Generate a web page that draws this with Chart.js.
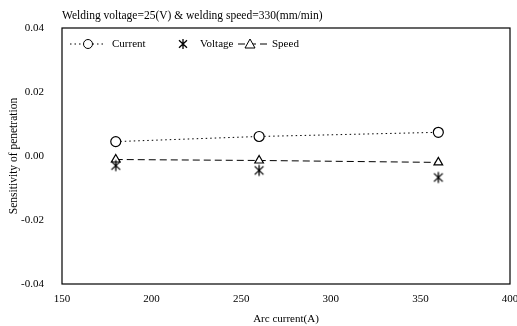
<!DOCTYPE html>
<html>
<head>
<meta charset="utf-8">
<script src="https://cdn.jsdelivr.net/npm/chart.js@4/dist/chart.umd.min.js"></script>
<style>
  html, body { margin: 0; padding: 0; background: #fff; }
  #wrap { width: 517px; height: 326px; position: relative; }
</style>
</head>
<body>
<div id="wrap"><canvas id="myChart1"></canvas></div>
<script>
// data
var arcCurrent = [180, 260, 360];
var currentSens = [0.0045, 0.0061, 0.0074];
var voltageSens = [-0.0030, -0.0045, -0.0067];
var speedSens = [-0.0011, -0.0014, -0.0020];
var xTicks = [150, 200, 250, 300, 350, 400];
var yTicks = [-0.04, -0.02, 0.00, 0.02, 0.04];
var seriesNames = ['Current', 'Voltage', 'Speed'];
var chartTitle = 'Welding voltage=25(V) & welding speed=330(mm/min)';

var serif = '"Liberation Serif", "DejaVu Serif", serif';

function pts(ys) {
    return arcCurrent.map(function (x, i) { return { x: x, y: ys[i] }; });
}

// six armed asterisk like the scan
function drawAsterisk(ctx, cx, cy, r) {
    ctx.beginPath();
    ctx.moveTo(cx, cy - r); ctx.lineTo(cx, cy + r);
    ctx.moveTo(cx - r * 0.8, cy - r * 0.75); ctx.lineTo(cx + r * 0.8, cy + r * 0.75);
    ctx.moveTo(cx + r * 0.8, cy - r * 0.75); ctx.lineTo(cx - r * 0.8, cy + r * 0.75);
    ctx.stroke();
}
var asterisk = document.createElement('canvas');
asterisk.width = 14; asterisk.height = 14;
(function () {
    var c = asterisk.getContext('2d');
    c.strokeStyle = '#000';
    c.lineWidth = 1.3;
    drawAsterisk(c, 7, 7, 5.5);
})();

// frame, title and legend drawn on the canvas
var extras = {
    id: 'extras',
    afterDraw: function (chart) {
        var ctx = chart.ctx, a = chart.chartArea;
        ctx.save();
        ctx.strokeStyle = '#000';
        ctx.lineWidth = 1.2;
        ctx.strokeRect(a.left, a.top, a.right - a.left, a.bottom - a.top);

        ctx.fillStyle = '#000';
        ctx.font = '11.5px ' + serif;
        ctx.textBaseline = 'middle';
        ctx.fillText(chartTitle, 62, 16);

        // legend
        var ly = 44;
        ctx.font = '11px ' + serif;
        ctx.lineWidth = 1;
        ctx.setLineDash([1.5, 3]);
        ctx.beginPath(); ctx.moveTo(70, ly); ctx.lineTo(106, ly); ctx.stroke();
        ctx.setLineDash([]);
        ctx.beginPath(); ctx.arc(88, ly, 4.5, 0, Math.PI * 2);
        ctx.fillStyle = '#fff'; ctx.fill(); ctx.stroke();
        ctx.fillStyle = '#000';
        ctx.fillText(seriesNames[0], 112, ly);

        ctx.lineWidth = 1.3;
        drawAsterisk(ctx, 183, ly, 5);
        ctx.lineWidth = 1;
        ctx.fillText(seriesNames[1], 200, ly);

        ctx.setLineDash([7, 4]);
        ctx.beginPath(); ctx.moveTo(238, ly); ctx.lineTo(268, ly); ctx.stroke();
        ctx.setLineDash([]);
        ctx.beginPath();
        ctx.moveTo(250, ly - 5); ctx.lineTo(255, ly + 4); ctx.lineTo(245, ly + 4); ctx.closePath();
        ctx.fillStyle = '#fff'; ctx.fill(); ctx.stroke();
        ctx.fillStyle = '#000';
        ctx.fillText(seriesNames[2], 272, ly);
        ctx.restore();
    }
};

var data = {
    datasets: [{
        label: seriesNames[0],
        data: pts(currentSens),
        borderColor: '#000',
        borderWidth: 1,
        borderDash: [1.5, 3],
        pointStyle: 'circle',
        pointRadius: 5,
        pointBackgroundColor: '#fff',
        pointBorderColor: '#000',
        pointBorderWidth: 1.2
    }, {
        label: seriesNames[1],
        data: pts(voltageSens),
        showLine: false,
        borderColor: '#000',
        pointStyle: asterisk,
        pointRadius: 6
    }, {
        label: seriesNames[2],
        data: pts(speedSens),
        borderColor: '#000',
        borderWidth: 1,
        borderDash: [7, 4],
        pointStyle: 'triangle',
        pointRadius: 5,
        pointBackgroundColor: '#fff',
        pointBorderColor: '#000',
        pointBorderWidth: 1.2
    }]
};

var options = {
    responsive: true,
    maintainAspectRatio: false,
    animation: false,
    layout: { padding: { top: 28, right: 5, left: 0, bottom: 0 } },
    plugins: {
        legend: { display: false },
        title: { display: false },
        tooltip: { enabled: false }
    },
    scales: {
        x: {
            type: 'linear',
            min: 150, max: 400,
            afterBuildTicks: function (s) { s.ticks = xTicks.map(function (v) { return { value: v }; }); },
            afterFit: function (s) { s.height = 42; s.paddingLeft = 0; s.paddingRight = 0; },
            grid: { display: false, drawTicks: false },
            border: { display: false },
            ticks: { color: '#000', font: { family: serif, size: 11 }, padding: 9, maxRotation: 0 },
            title: { display: true, text: 'Arc current(A)', color: '#000', font: { family: serif, size: 11 }, padding: { top: 1, bottom: 0 } }
        },
        y: {
            min: -0.04, max: 0.04,
            afterBuildTicks: function (s) { s.ticks = yTicks.map(function (v) { return { value: v }; }); },
            afterFit: function (s) { s.width = 62; },
            grid: { display: false, drawTicks: false },
            border: { display: false },
            ticks: {
                color: '#000', font: { family: serif, size: 11 }, padding: 18,
                callback: function (v) { return Math.abs(v) < 1e-9 ? '0.00' : v.toFixed(2); }
            },
            title: { display: true, text: 'Sensitivity of penetration', color: '#000', font: { family: serif, size: 11.5 }, padding: { top: 7, bottom: 0 } }
        }
    }
};

var myChart = new Chart(document.getElementById('myChart1'), {
    type: 'line',
    data: data,
    options: options,
    plugins: [extras]
});
</script>
</body>
</html>
